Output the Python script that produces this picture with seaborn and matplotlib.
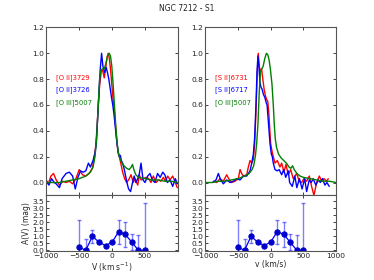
import numpy as np
import pandas as pd
import seaborn as sns
import matplotlib
matplotlib.use('Agg')
import matplotlib.pyplot as plt

# --- left panel: [O II] lines vs [O III] ---
v_oii29 = [-1000, -970, -930, -890, -850, -800, -750, -700, -650, -600, -550, -500, -450, -400, -350, -300,
           -270, -250, -230, -210, -190, -165, -145, -120, -100, -80, -60, -45, -25, -5, 15, 35, 55, 75, 95,
           115, 135, 160, 190, 220, 250, 287, 320, 350, 389, 414, 440, 474, 515, 555, 590, 626, 666, 707,
           740, 778, 810, 845, 880, 920, 960, 990]
f_oii29 = [0.02, -0.01, 0.05, 0.07, 0.02, -0.02, 0.01, 0.0, 0.01, -0.01, 0.03, 0.1, 0.06, 0.05, 0.07, 0.11,
           0.2, 0.28, 0.42, 0.6, 0.75, 0.86, 0.87, 0.81, 0.88, 0.96, 1.0, 0.97, 0.88, 0.76, 0.64, 0.55, 0.42,
           0.3, 0.22, 0.19, 0.14, 0.08, 0.03, 0.0, 0.02, 0.06, 0.0, 0.03, -0.02, 0.06, 0.02, 0.03, 0.04, 0.03,
           0.0, 0.05, 0.0, 0.02, 0.01, 0.04, 0.01, 0.05, 0.02, 0.05, 0.0, -0.04]

v_oii26 = [-1000, -960, -920, -880, -850, -800, -760, -700, -650, -600, -560, -520, -480, -440, -400, -360,
           -330, -290, -260, -240, -220, -200, -180, -160, -140, -115, -90, -70, -50, -30, -10, 10, 30, 50,
           70, 90, 110, 125, 140, 160, 185, 205, 225, 250, 280, 310, 335, 360, 390, 414, 439, 470, 500, 540,
           575, 610, 650, 690, 730, 770, 800, 840, 880, 920, 960, 990]
f_oii26 = [0.01, -0.02, 0.03, 0.0, -0.01, -0.04, 0.03, 0.07, 0.08, 0.05, -0.05, 0.04, 0.09, 0.08, 0.09, 0.15,
           0.12, 0.17, 0.23, 0.3, 0.5, 0.7, 0.88, 1.0, 0.9, 0.85, 0.89, 0.85, 0.8, 0.73, 0.66, 0.6, 0.52,
           0.42, 0.32, 0.24, 0.2, 0.21, 0.17, 0.15, 0.1, 0.05, 0.0, -0.05, -0.07, 0.0, 0.05, 0.0, 0.03, 0.07,
           0.15, 0.02, 0.0, 0.05, 0.07, 0.02, 0.0, 0.07, 0.04, 0.08, 0.06, 0.0, 0.02, -0.03, 0.03, -0.01]

v_oiii_l = [-1000, -900, -800, -700, -600, -500, -400, -330, -290, -260, -235, -210, -190, -170, -145, -120,
            -95, -70, -45, -25, -5, 15, 35, 55, 75, 95, 120, 150, 180, 220, 260, 290, 310, 330, 360, 400,
            500, 600, 700, 800, 900, 1000]
f_oiii_l = [0.0, 0.0, 0.0, 0.01, 0.02, 0.03, 0.05, 0.08, 0.12, 0.2, 0.35, 0.6, 0.8, 0.87, 0.88, 0.88,
            0.92, 0.98, 1.0, 0.98, 0.9, 0.76, 0.6, 0.44, 0.31, 0.23, 0.18, 0.15, 0.13, 0.11, 0.1, 0.12,
            0.14, 0.1, 0.06, 0.04, 0.03, 0.02, 0.02, 0.01, 0.01, 0.0]

# --- right panel: [S II] lines vs [O III] ---
v_sii31 = [-877, -826, -775, -724, -673, -632, -597, -546, -495, -469, -444, -418, -367, -342, -316, -291,
           -265, -245, -225, -205, -190, -175, -160, -140, -120, -100, -80, -60, -45, -30, -15, 0, 25, 66,
           101, 142, 168, 203, 234, 269, 305, 346, 397, 438, 473, 509, 550, 591, 626, 662, 703, 744, 780,
           815, 856, 881]
f_sii31 = [0.01, 0.0, 0.03, 0.01, 0.06, 0.02, 0.0, 0.01, 0.03, 0.1, 0.07, 0.05, 0.06, 0.12, 0.17, 0.15,
           0.18, 0.3, 0.55, 0.85, 1.0, 0.9, 0.86, 0.88, 0.8, 0.72, 0.67, 0.64, 0.63, 0.55, 0.42, 0.3, 0.23,
           0.15, 0.17, 0.12, 0.15, 0.08, 0.14, 0.06, 0.1, 0.03, 0.07, 0.01, 0.0, 0.03, 0.01, 0.05, -0.03,
           -0.1, 0.0, 0.05, 0.01, 0.03, 0.01, 0.03]

v_sii17 = [-887, -836, -801, -765, -724, -673, -622, -571, -520, -469, -418, -367, -316, -290, -265, -245,
           -225, -210, -195, -180, -165, -150, -130, -110, -90, -70, -55, -40, -25, -10, 10, 25, 40, 66, 100,
           130, 168, 200, 230, 269, 290, 330, 370, 400, 440, 480, 520, 550, 590, 620, 650, 690, 730, 760,
           790, 830, 860, 896]
f_sii17 = [0.0, 0.02, 0.07, 0.02, -0.01, 0.02, 0.0, 0.01, 0.03, 0.02, 0.05, 0.05, 0.09, 0.15, 0.22, 0.35,
           0.6, 0.85, 0.98, 0.9, 0.78, 0.74, 0.72, 0.68, 0.66, 0.62, 0.6, 0.5, 0.4, 0.3, 0.22, 0.2, 0.15,
           0.1, 0.09, 0.1, 0.06, 0.1, 0.04, 0.09, 0.0, -0.03, 0.05, -0.04, 0.03, -0.05, 0.03, -0.07, 0.02,
           0.0, 0.03, -0.02, 0.02, 0.0, 0.03, -0.02, 0.0, -0.03]

v_oiii_r = [-1000, -900, -800, -700, -600, -500, -400, -330, -285, -260, -235, -215, -195, -175, -155, -135,
            -115, -90, -65, -45, -25, -5, 20, 40, 55, 70, 90, 120, 160, 200, 240, 280, 310, 335, 360, 400,
            450, 500, 600, 700, 800, 900, 1000]
f_oiii_r = [0.0, 0.0, 0.01, 0.01, 0.02, 0.03, 0.05, 0.07, 0.1, 0.13, 0.2, 0.3, 0.45, 0.7, 0.86, 0.88,
            0.9, 0.96, 1.0, 0.99, 0.95, 0.88, 0.76, 0.6, 0.45, 0.34, 0.27, 0.22, 0.19, 0.17, 0.15, 0.12,
            0.11, 0.13, 0.1, 0.07, 0.05, 0.04, 0.03, 0.02, 0.01, 0.01, 0.0]

# --- extinction A(V) ---
av_vel = [-500, -400, -300, -200, -100, 0, 100, 200, 300, 400, 500]
av_val = [0.21, 0.0, 1.0, 0.58, 0.34, 0.58, 1.33, 1.13, 0.57, 0.0, 0.0]
av_err = [1.95, 0.78, 0.45, 0.0, 0.0, 0.0, 0.85, 0.88, 0.56, 1.06, 3.35]

labels_left = ['[O II]3729', '[O II]3726', '[O III]5007']
labels_right = ['[S II]6731', '[S II]6717', '[O III]5007']
line_colors = ['#ff0000', '#0000ff', '#008000']


def spectra_frame(series, labels):
    parts = []
    for (v, f), lab in zip(series, labels):
        parts.append(pd.DataFrame({'v': v, 'flux': f, 'line': lab}))
    return pd.concat(parts, ignore_index=True)


df_left = spectra_frame([(v_oii29, f_oii29), (v_oii26, f_oii26), (v_oiii_l, f_oiii_l)], labels_left)
df_right = spectra_frame([(v_sii31, f_sii31), (v_sii17, f_sii17), (v_oiii_r, f_oiii_r)], labels_right)
df_av = pd.DataFrame({'v': av_vel, 'av': av_val, 'err': av_err})

sns.set_style('ticks')
plt.rcParams['font.family'] = ['DejaVu Sans']

fig = plt.figure(figsize=(3.74, 2.8), dpi=100)
ax_tl = fig.add_axes([0.1238, 0.302, 0.352, 0.6])
ax_bl = fig.add_axes([0.1238, 0.1036, 0.352, 0.1982])
ax_tr = fig.add_axes([0.549, 0.302, 0.3495, 0.6])
ax_br = fig.add_axes([0.549, 0.1036, 0.3495, 0.1982])

for ax_t, ax_b, df, labels in [(ax_tl, ax_bl, df_left, labels_left),
                               (ax_tr, ax_br, df_right, labels_right)]:
    sns.lineplot(data=df, x='v', y='flux', hue='line', hue_order=labels,
                 palette=line_colors, estimator=None, sort=False, lw=1.0,
                 legend=False, ax=ax_t)
    for i, (lab, col) in enumerate(zip(labels, line_colors)):
        ax_t.text(-850, 0.815 - 0.1 * i, lab, color=col, fontsize=4.9, va='center', ha='left')
    ax_t.set_xlim(-1000, 1000)
    ax_t.set_ylim(-0.1, 1.2)
    ax_t.set_yticks(np.arange(0, 1.21, 0.2))
    ax_t.set_xticks([-1000, -500, 0, 500, 1000])
    ax_t.tick_params(labelbottom=False)
    ax_t.set_xlabel('')
    ax_t.set_ylabel('')

    ax_b.errorbar(df_av['v'], df_av['av'], yerr=df_av['err'], fmt='none',
                  ecolor='#0000ff', alpha=0.5, elinewidth=1.0, capsize=1.6, capthick=1.0)
    sns.lineplot(data=df_av, x='v', y='av', color='#0000ff', lw=0.9, marker='o',
                 markersize=3.8, markerfacecolor='#0000cc', markeredgecolor='#0000cc',
                 estimator=None, ax=ax_b)
    ax_b.set_xlim(-1000, 1000)
    ax_b.set_ylim(-0.05, 3.9)
    ax_b.set_yticks(np.arange(0, 3.51, 0.5))
    ax_b.set_ylabel('')

    for ax in (ax_t, ax_b):
        ax.tick_params(direction='in', top=True, right=True, length=2.5, width=0.6,
                       labelsize=5.4, pad=1.5, colors='#222222')
        for sp in ax.spines.values():
            sp.set_color('#555555')
            sp.set_linewidth(0.8)

ax_bl.set_xticks([-1000, -500, 0, 500])
ax_br.set_xticks([-1000, -500, 0, 500, 1000])
ax_bl.set_xticklabels(['\u22121000', '\u2212500', '0', '500'])
ax_br.set_xticklabels(['\u22121000', '\u2212500', '0', '500', '1000'])
ax_bl.set_xlabel('V (km s$^{-1}$)', fontsize=5.5, labelpad=1)
ax_br.set_xlabel('v (km/s)', fontsize=5.5, labelpad=1)
ax_bl.set_ylabel('A(V) (mag)', fontsize=5.5, labelpad=1)

fig.suptitle('NGC 7212 - S1', fontsize=5.5, y=0.985, color='#222222')

fig.savefig('out.png', dpi=100)
